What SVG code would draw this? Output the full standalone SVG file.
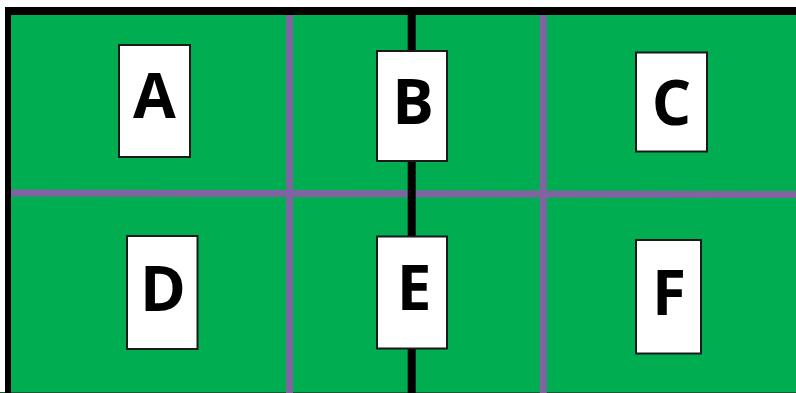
<svg xmlns="http://www.w3.org/2000/svg" width="796" height="393" viewBox="0 0 796 393">
<style>
.bg{fill:#00AD50}
.border{stroke:#000;fill:none}
.div{stroke:#8064A2;stroke-width:7;fill:none}
.axis{stroke:#000;stroke-width:8;fill:none}
.box{fill:#fff;stroke:#1a1a1a;stroke-width:2}
.lbl{font-family:"Open Sans","Liberation Sans",sans-serif;font-weight:bold;font-size:62px;fill:#000;text-anchor:middle}
</style>
<rect x="0" y="0" width="796" height="393" fill="#fff"/>
<rect class="bg" x="8" y="11" width="788" height="381"/>
<line x1="0" y1="392.5" x2="796" y2="392.5" stroke="#1a5a30" stroke-width="1"/>
<g id="connectors">
<line class="div" x1="289.5" y1="14" x2="289.5" y2="393"/>
<line class="div" x1="543.3" y1="14" x2="543.3" y2="393"/>
<line class="div" x1="8" y1="193" x2="796" y2="194.5"/>
<line class="axis" x1="411.7" y1="14" x2="411.7" y2="393"/>
<line class="border" stroke-width="6" x1="8" y1="7" x2="8" y2="393"/>
<line class="border" stroke-width="8" x1="5" y1="11" x2="796" y2="11"/>
</g>
<g id="A"><rect class="box" x="119" y="45" width="71" height="112"/><text class="lbl" x="154.5" y="118">A</text></g>
<g id="B"><rect class="box" x="377" y="51" width="70" height="110"/><text class="lbl" x="413" y="124">B</text></g>
<g id="C"><rect class="box" x="636" y="52.5" width="71" height="99"/><text class="lbl" x="671.5" y="125">C</text></g>
<g id="D"><rect class="box" x="127" y="236" width="70.5" height="113"/><text class="lbl" x="163" y="311">D</text></g>
<g id="E"><rect class="box" x="377" y="236.5" width="70" height="112"/><text class="lbl" x="414" y="310">E</text></g>
<g id="F"><rect class="box" x="636" y="240" width="65" height="113.5"/><text class="lbl" x="669" y="315">F</text></g>
</svg>
